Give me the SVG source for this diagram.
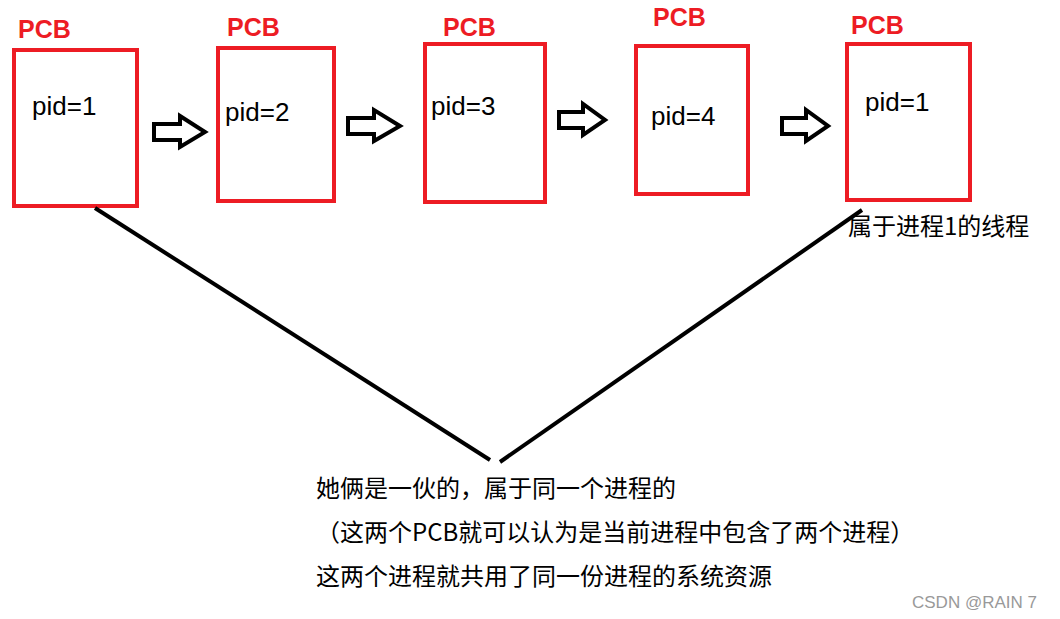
<svg xmlns="http://www.w3.org/2000/svg" width="1060" height="619" viewBox="0 0 1060 619">
<style>
.box{fill:none;stroke:#ed1c24;stroke-width:4}
.pcb{fill:#ed1c24;font:bold 25px "Liberation Sans","Noto Sans CJK SC",sans-serif}
.pid{fill:#000;font:26px "Liberation Sans","Noto Sans CJK SC",sans-serif}
.arr{fill:#fff;stroke:#000;stroke-width:4;stroke-linejoin:miter}
.t{fill:#000;font:24px "Noto Sans CJK SC",sans-serif}
.ln{stroke:#000;stroke-width:4}
</style>
<g id="n1"><rect class="box" x="14" y="50" width="123" height="156"/><text class="pcb" x="18" y="38">PCB</text><text class="pid" x="32" y="115">pid=1</text></g>
<g id="n2"><rect class="box" x="218" y="48" width="116" height="153"/><text class="pcb" x="227" y="36">PCB</text><text class="pid" x="225" y="121">pid=2</text></g>
<g id="n3"><rect class="box" x="425" y="44" width="120" height="158"/><text class="pcb" x="443" y="36">PCB</text><text class="pid" x="431" y="115">pid=3</text></g>
<g id="n4"><rect class="box" x="636" y="46" width="112" height="148"/><text class="pcb" x="653" y="26">PCB</text><text class="pid" x="651" y="125">pid=4</text></g>
<g id="n5"><rect class="box" x="847" y="44" width="123" height="156"/><text class="pcb" x="851" y="34">PCB</text><text class="pid" x="865" y="111">pid=1</text><text class="t" x="848" y="235">属于进程1的线程</text></g>
<g id="connectors">
<path class="arr" d="M154,124 H180 V116 L205,132 L180,147 V140 H154 Z"/>
<path class="arr" d="M348,118 H374 V110 L400,126 L374,141 V134 H348 Z"/>
<path class="arr" d="M559,112 H583 V104 L605,120 L583,135 V128 H559 Z"/>
<path class="arr" d="M782,118 H806 V110 L828,126 L806,141 V134 H782 Z"/>
<line class="ln" x1="95" y1="208" x2="490" y2="460"/>
<line class="ln" x1="862" y1="210" x2="500" y2="462"/>
</g>
<g id="note">
<text class="t" x="316" y="497">她俩是一伙的，属于同一个进程的</text>
<text class="t" x="316" y="541">（这两个PCB就可以认为是当前进程中包含了两个进程）</text>
<text class="t" x="316" y="585">这两个进程就共用了同一份进程的系统资源</text>
</g>
<text x="912" y="608" fill="#999" font-family="Liberation Sans, sans-serif" font-size="17">CSDN @RAIN 7</text>
</svg>
